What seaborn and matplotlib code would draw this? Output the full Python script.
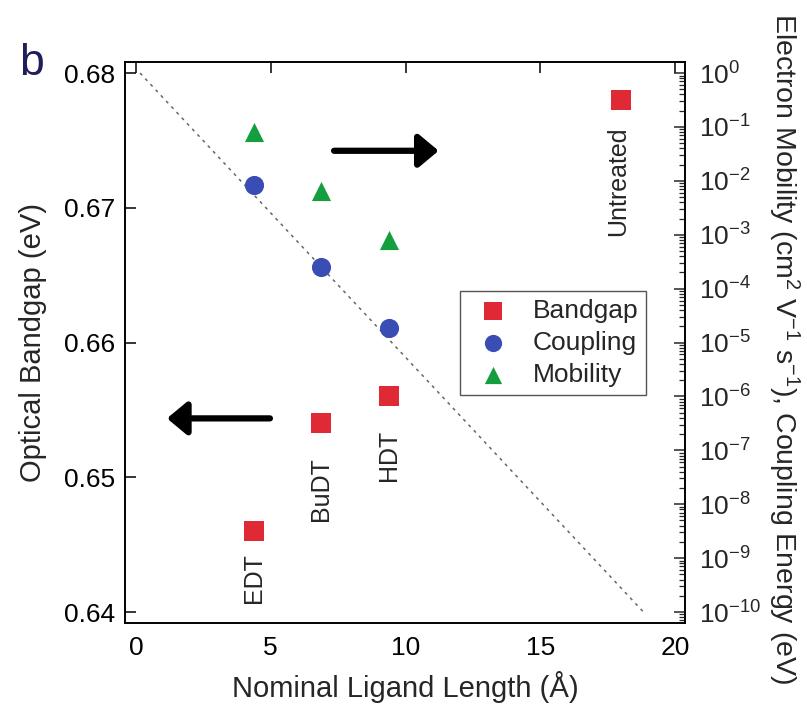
import matplotlib
matplotlib.use("Agg")
import matplotlib.pyplot as plt
import seaborn as sns
import numpy as np
import pandas as pd
from matplotlib.ticker import LogLocator, NullFormatter, FixedLocator

# ---------------- data ----------------
ligands = ["EDT", "BuDT", "HDT", "Untreated"]
length_bandgap = [4.37, 6.86, 9.39, 17.98]
bandgap = [0.6460, 0.6540, 0.6560, 0.6780]

length_coupling = [4.37, 6.86, 9.39]
coupling = [8.5e-3, 2.5e-4, 1.85e-5]

length_mobility = [4.37, 6.86, 9.39]
mobility = [7.9e-2, 6.6e-3, 8.1e-4]

fit_x = [0.15, 18.83]
fit_y = [1.0, 1e-10]

label_x = [4.37, 6.86, 9.39, 17.9]
label_top = [0.64438, 0.65150, 0.65351, 0.67601]

x_ticks = [0, 5, 10, 15, 20]
y_ticks = [0.64, 0.65, 0.66, 0.67, 0.68]

red = "#DF2A35"
blue = "#3A4DB4"
green = "#149E3D"

# ---------------- style ----------------
sns.set_theme(style="white")
plt.rcParams["font.family"] = ["Liberation Sans", "DejaVu Sans"]
plt.rcParams["mathtext.fontset"] = "custom"
plt.rcParams["mathtext.rm"] = "Liberation Sans"
plt.rcParams["mathtext.it"] = "Liberation Sans:italic"
plt.rcParams["mathtext.default"] = "regular"

fig = plt.figure(figsize=(8.07, 7.05), dpi=100)
ax = fig.add_axes([0.1549, 0.1163, 0.6939, 0.7957])
ax2 = ax.twinx()

df_bg = pd.DataFrame({"L": length_bandgap, "E": bandgap})
df_cp = pd.DataFrame({"L": length_coupling, "V": coupling})
df_mb = pd.DataFrame({"L": length_mobility, "V": mobility})

sns.scatterplot(data=df_bg, x="L", y="E", ax=ax, marker="s", color=red,
                s=205, linewidth=0, zorder=3)
sns.scatterplot(data=df_cp, x="L", y="V", ax=ax2, marker="o", color=blue,
                s=190, linewidth=0, zorder=3)
sns.scatterplot(data=df_mb, x="L", y="V", ax=ax2, marker="^", color=green,
                s=190, linewidth=0, zorder=3)
sns.lineplot(x=fit_x, y=fit_y, ax=ax2, color="#666666", lw=1.1,
             linestyle=(0, (2, 3)), zorder=2)

# axes limits / scales
ax.set_xlim(-0.408, 20.37)
ax.set_ylim(0.639184, 0.680816)
ax2.set_yscale("log")
ax2.set_ylim(10 ** (-10.2041), 10 ** 0.2041)

ax.set_xticks(x_ticks)
ax.set_yticks(y_ticks)
ax.set_yticklabels([f"{v:.2f}" for v in y_ticks])
ax2.yaxis.set_major_locator(FixedLocator([10.0 ** k for k in range(-10, 1)]))
ax2.yaxis.set_minor_locator(LogLocator(base=10, subs=np.arange(2, 10), numticks=30))
ax2.yaxis.set_minor_formatter(NullFormatter())
ax2.set_yticklabels([f"$10^{{{k}}}$" for k in range(-10, 1)])

ax.tick_params(axis="both", which="major", direction="in", length=8, width=1.1,
               labelsize=19, color="black", labelcolor="black")
ax.tick_params(axis="x", top=True, pad=9)
ax.tick_params(axis="y", pad=7)
ax2.tick_params(axis="y", which="major", direction="in", length=8, width=1.1,
                labelsize=19, pad=10)
ax2.tick_params(axis="y", which="minor", direction="in", length=4, width=0.9)

for a in (ax, ax2):
    for sp in a.spines.values():
        sp.set_linewidth(1.2)
        sp.set_color("black")

ax.set_xlabel("Nominal Ligand Length (Å)", fontsize=21, labelpad=8)
ax.set_ylabel("Optical Bandgap (eV)", fontsize=21)
ax2.set_ylabel("Electron Mobility (cm$^2$ V$^{-1}$ s$^{-1}$), Coupling Energy (eV)",
               fontsize=20.5, rotation=270)
ax2.yaxis.set_label_coords(1.207, 0.49)
ax.yaxis.set_label_coords(-0.139, 0.5)

# ligand labels
for name, lx, ly in zip(ligands, label_x, label_top):
    ax.text(lx, ly, name, rotation=90, ha="center", va="top", fontsize=18)

# arrows
ax.annotate("", xy=(11.23, 0.67423), xytext=(7.35, 0.67423),
            arrowprops=dict(arrowstyle="-|>,head_length=12,head_width=10",
                            mutation_scale=1, lw=4.5, color="black",
                            shrinkA=0, shrinkB=0))
ax.annotate("", xy=(1.15, 0.65437), xytext=(4.97, 0.65437),
            arrowprops=dict(arrowstyle="-|>,head_length=12,head_width=10",
                            mutation_scale=1, lw=4.5, color="black",
                            shrinkA=0, shrinkB=0))

# legend
handles = [ax.collections[0], ax2.collections[0], ax2.collections[1]]
leg = ax2.legend(handles, ["Bandgap", "Coupling", "Mobility"],
                 loc="upper left", bbox_to_anchor=(0.598, 0.592),
                 borderaxespad=0, fontsize=19, frameon=True, fancybox=False,
                 framealpha=1, edgecolor="#555555", handlelength=1.9,
                 handletextpad=0.55, labelspacing=0.3, borderpad=0.3,
                 markerscale=0.9)
leg.get_frame().set_linewidth(1.0)

fig.text(0.024, 0.893, "b", fontsize=32, color="#1E1E5A", va="baseline")

fig.savefig("out.png", dpi=100)
